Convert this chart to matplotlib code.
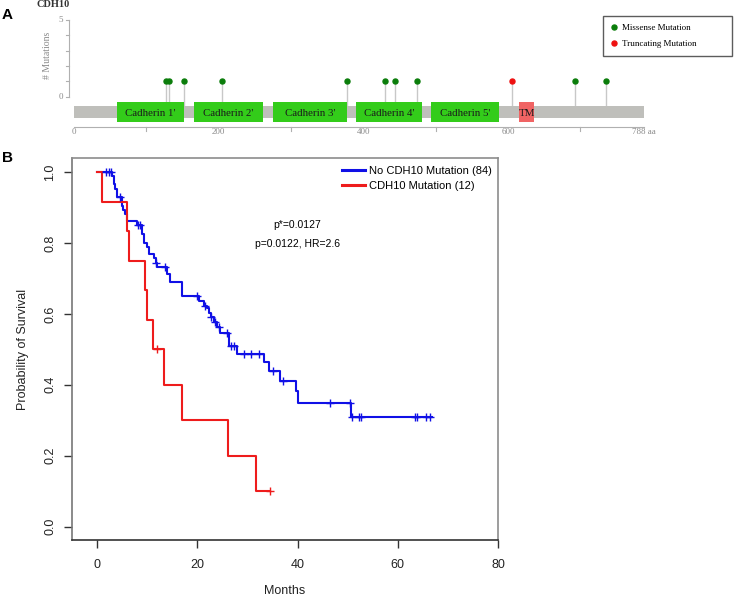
import numpy as np
import matplotlib
matplotlib.use('Agg')
import matplotlib.pyplot as plt
from matplotlib.patches import Rectangle

# ---------------- Panel A data ----------------
gene_name = "CDH10"
protein_length = 788
domain_names = ["Cadherin 1'", "Cadherin 2'", "Cadherin 3'", "Cadherin 4'", "Cadherin 5'", "TM"]
domain_start = [60, 166, 275, 390, 494, 615]
domain_end = [152, 261, 377, 481, 588, 636]
missense_pos = [127, 131, 152, 204, 378, 430, 444, 474, 693, 736]
missense_count = [1, 1, 1, 1, 1, 1, 1, 1, 1, 1]
truncating_pos = [606]
truncating_count = [1]
protein_ticks = [0, 200, 400, 600]
protein_minor_ticks = [100, 300, 500, 700]

# ---------------- Panel B data ----------------
blue_label = "No CDH10 Mutation (84)"
red_label = "CDH10 Mutation (12)"
blue_t = [0, 2.9, 3.3, 3.6, 4.0, 4.9, 5.2, 5.5, 5.9, 7.9, 8.9, 9.3, 9.9, 10.3, 11.3, 11.7,
          12.0, 13.9, 14.6, 16.9, 20.3, 21.3, 22.0, 22.4, 22.7, 23.3, 23.9, 24.6, 26.3,
          27.9, 33.3, 34.3, 36.6, 39.6, 40.0, 50.7]
blue_s = [1.0, 0.988, 0.967, 0.953, 0.929, 0.905, 0.893, 0.881, 0.863, 0.851, 0.826, 0.800,
          0.788, 0.770, 0.758, 0.744, 0.731, 0.712, 0.690, 0.651, 0.637, 0.623, 0.618, 0.604,
          0.590, 0.576, 0.562, 0.545, 0.509, 0.488, 0.464, 0.439, 0.410, 0.382, 0.349, 0.310]
blue_end = 66.8
blue_cens = [1.8, 2.3, 2.8, 4.5, 8.2, 8.6, 11.8, 13.6, 20.0, 21.6, 22.8, 23.5, 24.3, 26.0,
             26.8, 27.3, 29.3, 30.7, 32.3, 35.1, 37.2, 46.5, 50.5, 50.8, 52.3, 52.7, 63.4,
             63.8, 65.7, 66.4]
red_t = [0, 1.0, 5.9, 6.3, 9.6, 9.9, 11.1, 13.3, 16.9, 26.1, 31.8]
red_s = [1.0, 0.917, 0.833, 0.75, 0.667, 0.583, 0.5, 0.4, 0.3, 0.2, 0.1]
red_end = 34.6
red_cens = [11.9, 34.6]
p_text = ["p*=0.0127", "p=0.0122, HR=2.6"]

W, H = 735, 597
fig = plt.figure(figsize=(W / 100, H / 100), dpi=100)

# ================= Panel A =================
px_per_aa = 0.7235
aa0_px = 74.0
cnt0_py = 96.7
px_per_cnt = 15.33
axA = fig.add_axes([0, 1 - 140 / H, 1, 140 / H])
axA.set_xlim((0 - aa0_px) / px_per_aa, (W - aa0_px) / px_per_aa)
axA.set_ylim((cnt0_py - 140) / px_per_cnt, (cnt0_py - 0) / px_per_cnt)
axA.axis('off')

def cy(py):
    return (cnt0_py - py) / px_per_cnt

def ax_aa(px):
    return (px - aa0_px) / px_per_aa

serif = ['Liberation Serif', 'DejaVu Serif']

# protein bar
axA.add_patch(Rectangle((0, cy(117.7)), protein_length, cy(106) - cy(117.7),
                        facecolor='#bfbfbb', edgecolor='none', zorder=1))
# stems
for pos, c in zip(missense_pos + truncating_pos, missense_count + truncating_count):
    axA.plot([pos, pos], [cy(106), c], color='#c8c8c8', lw=1.0, zorder=0.5)
# domains
for name, s, e in zip(domain_names, domain_start, domain_end):
    fc = '#f06464' if name == 'TM' else '#33cc1a'
    axA.add_patch(Rectangle((s, cy(122.3)), e - s, cy(101.7) - cy(122.3),
                            facecolor=fc, edgecolor='none', zorder=2))
    axA.text((s + e) / 2, cy(113), name, ha='center', va='center',
             fontsize=7.8, family=serif, color='#1a1a1a', zorder=3)
# heads
mis = axA.plot(missense_pos, missense_count, 'o', color='#0b7d0b', ms=3.6, zorder=4,
               label='Missense Mutation', linestyle='none')[0]
tru = axA.plot(truncating_pos, truncating_count, 'o', color='#ee1111', ms=3.6, zorder=4,
               label='Truncating Mutation', linestyle='none')[0]

# y axis (# Mutations)
gray = '#8a8a8a'
yx = ax_aa(69.3)
axA.plot([yx, yx], [0, 5], color='#b0b0b0', lw=0.8)
for k in range(6):
    axA.plot([ax_aa(65.7), yx], [k, k], color='#b0b0b0', lw=0.8)
for k in [0, 5]:
    axA.text(ax_aa(63), k, str(k), ha='right', va='center', fontsize=6.5,
             family=serif, color=gray)
axA.text(ax_aa(48), cy(55), '# Mutations', rotation=90, ha='center', va='center',
         fontsize=7, family=serif, color=gray)

# protein x axis
axA.plot([0, protein_length], [cy(126.7), cy(126.7)], color='#b0b0b0', lw=0.8)
for t in protein_minor_ticks:
    axA.plot([t, t], [cy(126.7), cy(131)], color='#b0b0b0', lw=0.8)
for t in protein_ticks:
    axA.text(t, cy(131.5), str(t), ha='center', va='center', fontsize=6.5,
             family=serif, color=gray)
axA.text(protein_length, cy(131.5), '%d aa' % protein_length, ha='center', va='center',
         fontsize=6.5, family=serif, color=gray)

# gene name
axA.text(ax_aa(53), cy(4.5), gene_name, ha='center', va='center', fontsize=7.5,
         family=serif, fontweight='bold', color='#333333')

legA = axA.legend(handles=[mis, tru], loc='upper left',
                  bbox_to_anchor=(602.7 / W, 1 - 54 / H, 129 / W, 38.3 / H),
                  bbox_transform=fig.transFigure, mode='expand', frameon=True,
                  fancybox=False, edgecolor='#333333',
                  prop={'family': serif, 'size': 6.5}, handlelength=0.6,
                  handletextpad=0.6, borderpad=0.9, labelspacing=0.8,
                  borderaxespad=0, markerscale=1.0)
legA.get_frame().set_linewidth(1.0)

fig.text(7 / W, 1 - 15 / H, 'A', fontsize=11, fontweight='bold', ha='center', va='center',
         family=['Liberation Sans', 'DejaVu Sans'])
fig.text(7 / W, 1 - 158 / H, 'B', fontsize=11, fontweight='bold', ha='center', va='center',
         family=['Liberation Sans', 'DejaVu Sans'])

# ================= Panel B =================
sans = ['Liberation Sans', 'DejaVu Sans']
axB = fig.add_axes([72 / W, 1 - 540 / H, (498 - 72) / W, (540 - 158) / H])
axB.set_xlim(-5, 80)
axB.set_ylim(-0.038, 1.04)

def surv_at(ts, ss, x):
    idx = np.searchsorted(np.array(ts), np.array(x), side='right') - 1
    return np.array(ss)[idx]

blue_col = '#1010e6'
red_col = '#ee1c1c'
axB.step(blue_t + [blue_end], blue_s + [blue_s[-1]], where='post', color=blue_col, lw=1.5,
         label=blue_label)
axB.step(red_t + [red_end], red_s + [red_s[-1]], where='post', color=red_col, lw=1.5,
         label=red_label)
axB.plot(blue_cens, surv_at(blue_t, blue_s, blue_cens), '+', color=blue_col, ms=6, mew=1.0)
axB.plot(red_cens, surv_at(red_t, red_s, red_cens), '+', color=red_col, ms=6, mew=1.0)

axB.text(40, 0.850, p_text[0], ha='center', va='center', fontsize=7.5, family=sans)
axB.text(40, 0.798, p_text[1], ha='center', va='center', fontsize=7.5, family=sans)

axB.set_xticks([0, 20, 40, 60, 80])
axB.set_yticks([0.0, 0.2, 0.4, 0.6, 0.8, 1.0])
axB.set_yticklabels(['0.0', '0.2', '0.4', '0.6', '0.8', '1.0'], rotation=90, va='center')
axB.tick_params(axis='both', direction='out', length=6, width=1, color='#333333',
                labelsize=9, labelcolor='#222222')
axB.tick_params(axis='x', pad=8)
axB.tick_params(axis='y', pad=5.5)
for lab in axB.get_xticklabels() + axB.get_yticklabels():
    lab.set_family(sans)
for side in ['top', 'right', 'left']:
    axB.spines[side].set_color('#8c8c8c')
    axB.spines[side].set_linewidth(1.2)
axB.spines['bottom'].set_color('#333333')
axB.spines['bottom'].set_linewidth(1.2)
axB.spines['left'].set_color('#777777')

axB.set_xlabel('Months', fontsize=9, family=sans, color='#222222')
axB.set_ylabel('Probability of Survival', fontsize=9, family=sans, color='#222222')
axB.xaxis.set_label_coords(0.5, (540 - 584.5) / (540 - 158))
axB.yaxis.set_label_coords((28.5 - 72) / (498 - 72), 0.5)

legB = axB.legend(loc='upper left', bbox_to_anchor=(341.5 / W, 1 - 166 / H),
                  bbox_transform=fig.transFigure, frameon=False,
                  prop={'family': sans, 'size': 8}, handlelength=2.1,
                  handletextpad=0.4, borderpad=0, borderaxespad=0, labelspacing=0.42)
for l in legB.get_lines():
    l.set_linewidth(2.2)

fig.savefig('out.png', dpi=100)
